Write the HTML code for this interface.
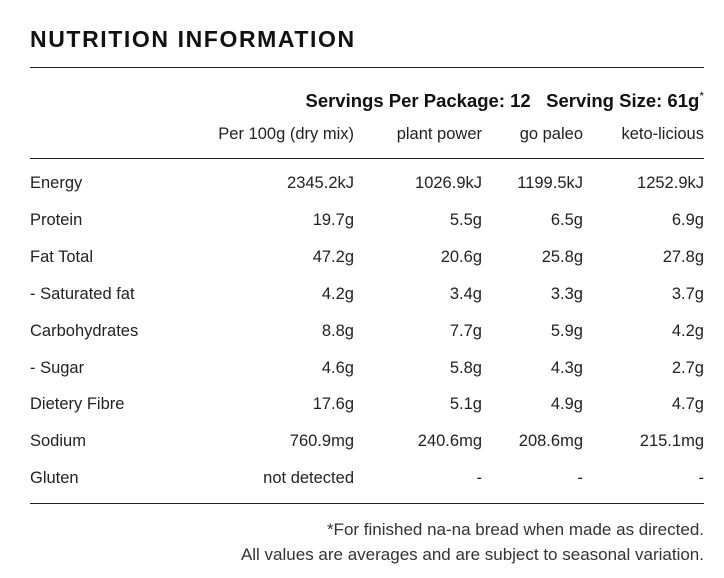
<!DOCTYPE html>
<html><head><style>
body{margin:0;width:724px;height:578px;background:#fff;font-family:"Liberation Sans",sans-serif;color:#222;position:relative;overflow:hidden}
.t{position:absolute;white-space:nowrap;font-size:16.5px;line-height:20px}
.r{text-align:right}
.hr{position:absolute;left:30px;width:674px;height:1px;background:#222}
</style></head><body>
<div class="t" style="left:30px;top:25px;font-size:23px;line-height:28px;font-weight:bold;letter-spacing:1.6px;color:#111">NUTRITION INFORMATION</div>
<div class="hr" style="top:67px"></div>
<div class="t r" style="right:20px;top:86px;font-weight:bold;font-size:18.5px;color:#111">Servings Per Package: 12&nbsp;&nbsp;&nbsp;Serving Size: 61g<sup style="font-size:12px;font-weight:normal">*</sup></div>
<div class="t r" style="right:370px;top:124px">Per 100g (dry mix)</div>
<div class="t r" style="right:242px;top:124px">plant power</div>
<div class="t r" style="right:141px;top:124px">go paleo</div>
<div class="t r" style="right:20px;top:124px">keto-licious</div>
<div class="hr" style="top:158px"></div>
<div id="rows"></div>
<div class="hr" style="top:503px"></div>
<div class="t r" style="right:20px;top:520px;color:#333;font-size:17px">*For finished na-na bread when made as directed.</div>
<div class="t r" style="right:20px;top:545px;color:#333;font-size:17px">All values are averages and are subject to seasonal variation.</div>
<script>
var d=[["Energy","2345.2kJ","1026.9kJ","1199.5kJ","1252.9kJ"],["Protein","19.7g","5.5g","6.5g","6.9g"],["Fat Total","47.2g","20.6g","25.8g","27.8g"],["- Saturated fat","4.2g","3.4g","3.3g","3.7g"],["Carbohydrates","8.8g","7.7g","5.9g","4.2g"],["- Sugar","4.6g","5.8g","4.3g","2.7g"],["Dietery Fibre","17.6g","5.1g","4.9g","4.7g"],["Sodium","760.9mg","240.6mg","208.6mg","215.1mg"],["Gluten","not detected","-","-","-"]];
var rs=[370,242,141,20],h="";
d.forEach(function(r,i){var y=173+i*36.9;h+='<div class="t" style="left:30px;top:'+y+'px">'+r[0]+'</div>';for(var j=1;j<5;j++)h+='<div class="t r" style="right:'+rs[j-1]+'px;top:'+y+'px">'+r[j]+'</div>';});
document.getElementById("rows").innerHTML=h;
</script>
</body></html>
